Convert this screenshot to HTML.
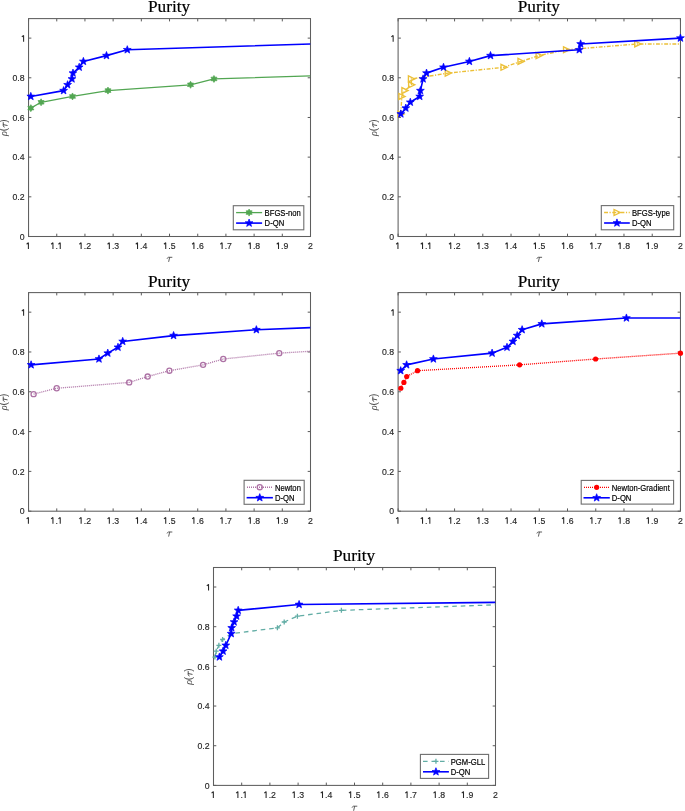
<!DOCTYPE html>
<html><head><meta charset="utf-8"><title>Purity</title>
<style>
html,body{margin:0;padding:0;background:#fff;}
body{width:685px;height:811px;overflow:hidden;font-family:"Liberation Sans",sans-serif;}
svg{display:block;will-change:transform;}
</style></head><body>
<svg width="685" height="811" viewBox="0 0 685 811">
<rect width="685" height="811" fill="#fff"/>
<clipPath id="c1"><rect x="28.55" y="18.6" width="281.95" height="217.9"/></clipPath>
<text x="169.03" y="11.7" font-family="Liberation Serif" font-size="17.3" fill="#000" text-anchor="middle" stroke="#000" stroke-width="0.2">Purity</text>
<path d="M28.55 236.5V233.7M28.55 18.6V21.4M56.75 236.5V233.7M56.75 18.6V21.4M84.94 236.5V233.7M84.94 18.6V21.4M113.14 236.5V233.7M113.14 18.6V21.4M141.33 236.5V233.7M141.33 18.6V21.4M169.53 236.5V233.7M169.53 18.6V21.4M197.72 236.5V233.7M197.72 18.6V21.4M225.91 236.5V233.7M225.91 18.6V21.4M254.11 236.5V233.7M254.11 18.6V21.4M282.3 236.5V233.7M282.3 18.6V21.4M310.5 236.5V233.7M310.5 18.6V21.4M28.55 236.5H31.35M310.5 236.5H307.7M28.55 196.82H31.35M310.5 196.82H307.7M28.55 157.14H31.35M310.5 157.14H307.7M28.55 117.47H31.35M310.5 117.47H307.7M28.55 77.79H31.35M310.5 77.79H307.7M28.55 38.11H31.35M310.5 38.11H307.7" stroke="#5a5a5a" stroke-width="1" fill="none"/>
<rect x="28.55" y="18.6" width="281.95" height="217.9" fill="none" stroke="#5e5e5e" stroke-width="1.05"/>
<path d="M28.4 249V242.68L26.63 244.26" fill="none" stroke="#262626" stroke-width="1.05" stroke-linejoin="bevel"/>
<text transform="translate(50.67 249) scale(0.94 1)" font-family="Liberation Sans" font-size="9.3" fill="#262626" stroke="#262626" stroke-width="0.15">&#8199;.&#8199;</text><path d="M52.95 249V242.68L51.18 244.26" fill="none" stroke="#262626" stroke-width="1.05" stroke-linejoin="bevel"/><path d="M60.24 249V242.68L58.47 244.26" fill="none" stroke="#262626" stroke-width="1.05" stroke-linejoin="bevel"/>
<text transform="translate(78.86 249) scale(0.94 1)" font-family="Liberation Sans" font-size="9.3" fill="#262626" stroke="#262626" stroke-width="0.15">&#8199;.2</text><path d="M81.14 249V242.68L79.38 244.26" fill="none" stroke="#262626" stroke-width="1.05" stroke-linejoin="bevel"/>
<text transform="translate(107.06 249) scale(0.94 1)" font-family="Liberation Sans" font-size="9.3" fill="#262626" stroke="#262626" stroke-width="0.15">&#8199;.3</text><path d="M109.34 249V242.68L107.57 244.26" fill="none" stroke="#262626" stroke-width="1.05" stroke-linejoin="bevel"/>
<text transform="translate(135.25 249) scale(0.94 1)" font-family="Liberation Sans" font-size="9.3" fill="#262626" stroke="#262626" stroke-width="0.15">&#8199;.4</text><path d="M137.53 249V242.68L135.77 244.26" fill="none" stroke="#262626" stroke-width="1.05" stroke-linejoin="bevel"/>
<text transform="translate(163.45 249) scale(0.94 1)" font-family="Liberation Sans" font-size="9.3" fill="#262626" stroke="#262626" stroke-width="0.15">&#8199;.5</text><path d="M165.73 249V242.68L163.96 244.26" fill="none" stroke="#262626" stroke-width="1.05" stroke-linejoin="bevel"/>
<text transform="translate(191.64 249) scale(0.94 1)" font-family="Liberation Sans" font-size="9.3" fill="#262626" stroke="#262626" stroke-width="0.15">&#8199;.6</text><path d="M193.92 249V242.68L192.16 244.26" fill="none" stroke="#262626" stroke-width="1.05" stroke-linejoin="bevel"/>
<text transform="translate(219.84 249) scale(0.94 1)" font-family="Liberation Sans" font-size="9.3" fill="#262626" stroke="#262626" stroke-width="0.15">&#8199;.7</text><path d="M222.12 249V242.68L220.35 244.26" fill="none" stroke="#262626" stroke-width="1.05" stroke-linejoin="bevel"/>
<text transform="translate(248.03 249) scale(0.94 1)" font-family="Liberation Sans" font-size="9.3" fill="#262626" stroke="#262626" stroke-width="0.15">&#8199;.8</text><path d="M250.31 249V242.68L248.55 244.26" fill="none" stroke="#262626" stroke-width="1.05" stroke-linejoin="bevel"/>
<text transform="translate(276.23 249) scale(0.94 1)" font-family="Liberation Sans" font-size="9.3" fill="#262626" stroke="#262626" stroke-width="0.15">&#8199;.9</text><path d="M278.51 249V242.68L276.74 244.26" fill="none" stroke="#262626" stroke-width="1.05" stroke-linejoin="bevel"/>
<text transform="translate(308.07 249) scale(0.94 1)" font-family="Liberation Sans" font-size="9.3" fill="#262626" stroke="#262626" stroke-width="0.15">2</text>
<text transform="translate(19.74 239.65) scale(0.94 1)" font-family="Liberation Sans" font-size="9.3" fill="#262626" stroke="#262626" stroke-width="0.15">0</text>
<text transform="translate(12.45 199.97) scale(0.94 1)" font-family="Liberation Sans" font-size="9.3" fill="#262626" stroke="#262626" stroke-width="0.15">0.2</text>
<text transform="translate(12.45 160.29) scale(0.94 1)" font-family="Liberation Sans" font-size="9.3" fill="#262626" stroke="#262626" stroke-width="0.15">0.4</text>
<text transform="translate(12.45 120.62) scale(0.94 1)" font-family="Liberation Sans" font-size="9.3" fill="#262626" stroke="#262626" stroke-width="0.15">0.6</text>
<text transform="translate(12.45 80.94) scale(0.94 1)" font-family="Liberation Sans" font-size="9.3" fill="#262626" stroke="#262626" stroke-width="0.15">0.8</text>
<path d="M23.6 41.71V35.39L21.83 36.97" fill="none" stroke="#262626" stroke-width="1.05" stroke-linejoin="bevel"/>
<path d="M167.22 258.4Q167.72 257.3 168.43 257.3L171.93 257.3M169.62 257.5L168.72 261.5" fill="none" stroke="#555" stroke-width="0.95" stroke-linecap="round"/>
<g transform="translate(6.95 127.95) rotate(-90)" fill="#4a4a4a"><text x="-8.0" y="0" font-family="Liberation Serif" font-style="italic" font-size="10.2">&#961;</text><text x="-3.3" y="0" font-family="Liberation Sans" font-size="10">(</text><text x="5.2" y="0" font-family="Liberation Sans" font-size="10">)</text><path d="M0.9 -2.7Q1.3 -3.7 2.0 -3.7L5.4 -3.7M3.3 -3.6L2.5 0.2" fill="none" stroke="#4a4a4a" stroke-width="0.95" stroke-linecap="round"/></g>
<path d="M30.83 108.13 L41.07 102.29 L72.51 96.46 L107.98 90.62 L190.56 84.79 L213.96 78.95 L310.5 75.96" fill="none" stroke="#52a652" stroke-width="1.3" stroke-linejoin="round" clip-path="url(#c1)"/>
<polygon points="30.83,104.63 31.85,106.37 33.86,106.38 32.86,108.13 33.86,109.88 31.85,109.89 30.83,111.63 29.82,109.89 27.8,109.88 28.8,108.13 27.8,106.38 29.82,106.37" fill="#52a652" stroke="#52a652" stroke-width="0.7"/>
<polygon points="41.07,98.79 42.08,100.54 44.1,100.54 43.1,102.29 44.1,104.04 42.08,104.05 41.07,105.79 40.05,104.05 38.04,104.04 39.04,102.29 38.04,100.54 40.05,100.54" fill="#52a652" stroke="#52a652" stroke-width="0.7"/>
<polygon points="72.51,92.96 73.52,94.7 75.54,94.71 74.54,96.46 75.54,98.21 73.52,98.22 72.51,99.96 71.49,98.22 69.47,98.21 70.48,96.46 69.47,94.71 71.49,94.7" fill="#52a652" stroke="#52a652" stroke-width="0.7"/>
<polygon points="107.98,87.12 108.99,88.87 111.01,88.87 110.01,90.62 111.01,92.37 108.99,92.38 107.98,94.12 106.96,92.38 104.94,92.37 105.95,90.62 104.94,88.87 106.96,88.87" fill="#52a652" stroke="#52a652" stroke-width="0.7"/>
<polygon points="190.56,81.29 191.57,83.03 193.59,83.04 192.59,84.79 193.59,86.54 191.57,86.55 190.56,88.29 189.54,86.55 187.53,86.54 188.53,84.79 187.53,83.04 189.54,83.03" fill="#52a652" stroke="#52a652" stroke-width="0.7"/>
<polygon points="213.96,75.45 214.98,77.2 216.99,77.2 215.99,78.95 216.99,80.7 214.98,80.71 213.96,82.45 212.95,80.71 210.93,80.7 211.93,78.95 210.93,77.2 212.95,77.2" fill="#52a652" stroke="#52a652" stroke-width="0.7"/>
<path d="M30.81 96.46 L63.6 90.62 L67.6 84.79 L71.97 78.95 L72.99 73.12 L79.19 67.28 L83.39 61.45 L106.48 55.61 L127.29 49.78 L310.5 43.94" fill="none" stroke="#0000ff" stroke-width="1.6" stroke-linejoin="round" clip-path="url(#c1)"/>
<polygon points="30.81,92.36 31.82,95.07 34.7,95.19 32.44,96.99 33.22,99.78 30.81,98.18 28.4,99.78 29.17,96.99 26.91,95.19 29.79,95.07" fill="#0000ff" stroke="#0000ff" stroke-width="0.7" stroke-linejoin="miter"/>
<polygon points="63.6,86.52 64.61,89.23 67.5,89.36 65.23,91.16 66.01,93.94 63.6,92.35 61.19,93.94 61.96,91.16 59.7,89.36 62.58,89.23" fill="#0000ff" stroke="#0000ff" stroke-width="0.7" stroke-linejoin="miter"/>
<polygon points="67.6,80.69 68.61,83.4 71.5,83.52 69.24,85.32 70.01,88.11 67.6,86.51 65.19,88.11 65.96,85.32 63.7,83.52 66.59,83.4" fill="#0000ff" stroke="#0000ff" stroke-width="0.7" stroke-linejoin="miter"/>
<polygon points="71.97,74.85 72.98,77.56 75.87,77.69 73.61,79.49 74.38,82.27 71.97,80.68 69.56,82.27 70.33,79.49 68.07,77.69 70.96,77.56" fill="#0000ff" stroke="#0000ff" stroke-width="0.7" stroke-linejoin="miter"/>
<polygon points="72.99,69.02 74,71.73 76.88,71.85 74.62,73.65 75.4,76.44 72.99,74.84 70.58,76.44 71.35,73.65 69.09,71.85 71.97,71.73" fill="#0000ff" stroke="#0000ff" stroke-width="0.7" stroke-linejoin="miter"/>
<polygon points="79.19,63.18 80.2,65.89 83.09,66.02 80.83,67.82 81.6,70.6 79.19,69.01 76.78,70.6 77.55,67.82 75.29,66.02 78.18,65.89" fill="#0000ff" stroke="#0000ff" stroke-width="0.7" stroke-linejoin="miter"/>
<polygon points="83.39,57.35 84.4,60.06 87.29,60.18 85.03,61.98 85.8,64.77 83.39,63.17 80.98,64.77 81.75,61.98 79.49,60.18 82.38,60.06" fill="#0000ff" stroke="#0000ff" stroke-width="0.7" stroke-linejoin="miter"/>
<polygon points="106.48,51.51 107.49,54.22 110.38,54.35 108.12,56.15 108.89,58.93 106.48,57.34 104.07,58.93 104.84,56.15 102.58,54.35 105.47,54.22" fill="#0000ff" stroke="#0000ff" stroke-width="0.7" stroke-linejoin="miter"/>
<polygon points="127.29,45.68 128.3,48.39 131.19,48.51 128.93,50.31 129.7,53.1 127.29,51.5 124.88,53.1 125.65,50.31 123.39,48.51 126.28,48.39" fill="#0000ff" stroke="#0000ff" stroke-width="0.7" stroke-linejoin="miter"/>
<rect x="233.3" y="205.7" width="70.5" height="24.1" fill="#fff" stroke="#6e6e6e" stroke-width="1.1"/>
<path d="M236.1 212.6H262.1" stroke="#52a652" stroke-width="1.3" fill="none"/>
<polygon points="249.1,209.1 250.12,210.84 252.13,210.85 251.13,212.6 252.13,214.35 250.12,214.36 249.1,216.1 248.09,214.36 246.07,214.35 247.07,212.6 246.07,210.85 248.09,210.84" fill="#52a652" stroke="#52a652" stroke-width="0.7"/>
<text transform="translate(264.6 215.9) scale(0.925 1)" font-family="Liberation Sans" font-size="8.3" fill="#000" text-anchor="start" stroke="#000" stroke-width="0.18">BFGS-non</text>
<path d="M236.1 223.1H262.1" stroke="#0000ff" stroke-width="1.6" fill="none"/>
<polygon points="249.1,219 250.11,221.71 253,221.83 250.74,223.63 251.51,226.42 249.1,224.82 246.69,226.42 247.46,223.63 245.2,221.83 248.09,221.71" fill="#0000ff" stroke="#0000ff" stroke-width="0.7" stroke-linejoin="miter"/>
<text transform="translate(264.6 226.4) scale(0.925 1)" font-family="Liberation Sans" font-size="8.3" fill="#000" text-anchor="start" stroke="#000" stroke-width="0.18">D-QN</text>
<clipPath id="c2"><rect x="398.1" y="18.6" width="282.35" height="217.9"/></clipPath>
<text x="538.78" y="11.7" font-family="Liberation Serif" font-size="17.3" fill="#000" text-anchor="middle" stroke="#000" stroke-width="0.2">Purity</text>
<path d="M398.1 236.5V233.7M398.1 18.6V21.4M426.34 236.5V233.7M426.34 18.6V21.4M454.57 236.5V233.7M454.57 18.6V21.4M482.81 236.5V233.7M482.81 18.6V21.4M511.04 236.5V233.7M511.04 18.6V21.4M539.28 236.5V233.7M539.28 18.6V21.4M567.51 236.5V233.7M567.51 18.6V21.4M595.75 236.5V233.7M595.75 18.6V21.4M623.98 236.5V233.7M623.98 18.6V21.4M652.22 236.5V233.7M652.22 18.6V21.4M680.45 236.5V233.7M680.45 18.6V21.4M398.1 236.5H400.9M680.45 236.5H677.65M398.1 196.82H400.9M680.45 196.82H677.65M398.1 157.14H400.9M680.45 157.14H677.65M398.1 117.47H400.9M680.45 117.47H677.65M398.1 77.79H400.9M680.45 77.79H677.65M398.1 38.11H400.9M680.45 38.11H677.65" stroke="#5a5a5a" stroke-width="1" fill="none"/>
<rect x="398.1" y="18.6" width="282.35" height="217.9" fill="none" stroke="#5e5e5e" stroke-width="1.05"/>
<path d="M397.95 249V242.68L396.18 244.26" fill="none" stroke="#262626" stroke-width="1.05" stroke-linejoin="bevel"/>
<text transform="translate(420.26 249) scale(0.94 1)" font-family="Liberation Sans" font-size="9.3" fill="#262626" stroke="#262626" stroke-width="0.15">&#8199;.&#8199;</text><path d="M422.54 249V242.68L420.77 244.26" fill="none" stroke="#262626" stroke-width="1.05" stroke-linejoin="bevel"/><path d="M429.83 249V242.68L428.06 244.26" fill="none" stroke="#262626" stroke-width="1.05" stroke-linejoin="bevel"/>
<text transform="translate(448.49 249) scale(0.94 1)" font-family="Liberation Sans" font-size="9.3" fill="#262626" stroke="#262626" stroke-width="0.15">&#8199;.2</text><path d="M450.77 249V242.68L449.01 244.26" fill="none" stroke="#262626" stroke-width="1.05" stroke-linejoin="bevel"/>
<text transform="translate(476.73 249) scale(0.94 1)" font-family="Liberation Sans" font-size="9.3" fill="#262626" stroke="#262626" stroke-width="0.15">&#8199;.3</text><path d="M479.01 249V242.68L477.24 244.26" fill="none" stroke="#262626" stroke-width="1.05" stroke-linejoin="bevel"/>
<text transform="translate(504.96 249) scale(0.94 1)" font-family="Liberation Sans" font-size="9.3" fill="#262626" stroke="#262626" stroke-width="0.15">&#8199;.4</text><path d="M507.24 249V242.68L505.48 244.26" fill="none" stroke="#262626" stroke-width="1.05" stroke-linejoin="bevel"/>
<text transform="translate(533.2 249) scale(0.94 1)" font-family="Liberation Sans" font-size="9.3" fill="#262626" stroke="#262626" stroke-width="0.15">&#8199;.5</text><path d="M535.48 249V242.68L533.71 244.26" fill="none" stroke="#262626" stroke-width="1.05" stroke-linejoin="bevel"/>
<text transform="translate(561.43 249) scale(0.94 1)" font-family="Liberation Sans" font-size="9.3" fill="#262626" stroke="#262626" stroke-width="0.15">&#8199;.6</text><path d="M563.71 249V242.68L561.95 244.26" fill="none" stroke="#262626" stroke-width="1.05" stroke-linejoin="bevel"/>
<text transform="translate(589.67 249) scale(0.94 1)" font-family="Liberation Sans" font-size="9.3" fill="#262626" stroke="#262626" stroke-width="0.15">&#8199;.7</text><path d="M591.95 249V242.68L590.18 244.26" fill="none" stroke="#262626" stroke-width="1.05" stroke-linejoin="bevel"/>
<text transform="translate(617.9 249) scale(0.94 1)" font-family="Liberation Sans" font-size="9.3" fill="#262626" stroke="#262626" stroke-width="0.15">&#8199;.8</text><path d="M620.18 249V242.68L618.42 244.26" fill="none" stroke="#262626" stroke-width="1.05" stroke-linejoin="bevel"/>
<text transform="translate(646.14 249) scale(0.94 1)" font-family="Liberation Sans" font-size="9.3" fill="#262626" stroke="#262626" stroke-width="0.15">&#8199;.9</text><path d="M648.42 249V242.68L646.65 244.26" fill="none" stroke="#262626" stroke-width="1.05" stroke-linejoin="bevel"/>
<text transform="translate(678.02 249) scale(0.94 1)" font-family="Liberation Sans" font-size="9.3" fill="#262626" stroke="#262626" stroke-width="0.15">2</text>
<text transform="translate(389.29 239.65) scale(0.94 1)" font-family="Liberation Sans" font-size="9.3" fill="#262626" stroke="#262626" stroke-width="0.15">0</text>
<text transform="translate(382 199.97) scale(0.94 1)" font-family="Liberation Sans" font-size="9.3" fill="#262626" stroke="#262626" stroke-width="0.15">0.2</text>
<text transform="translate(382 160.29) scale(0.94 1)" font-family="Liberation Sans" font-size="9.3" fill="#262626" stroke="#262626" stroke-width="0.15">0.4</text>
<text transform="translate(382 120.62) scale(0.94 1)" font-family="Liberation Sans" font-size="9.3" fill="#262626" stroke="#262626" stroke-width="0.15">0.6</text>
<text transform="translate(382 80.94) scale(0.94 1)" font-family="Liberation Sans" font-size="9.3" fill="#262626" stroke="#262626" stroke-width="0.15">0.8</text>
<path d="M393.15 41.71V35.39L391.38 36.97" fill="none" stroke="#262626" stroke-width="1.05" stroke-linejoin="bevel"/>
<path d="M536.98 258.4Q537.48 257.3 538.18 257.3L541.68 257.3M539.38 257.5L538.48 261.5" fill="none" stroke="#555" stroke-width="0.95" stroke-linecap="round"/>
<g transform="translate(376.5 127.95) rotate(-90)" fill="#4a4a4a"><text x="-8.0" y="0" font-family="Liberation Serif" font-style="italic" font-size="10.2">&#961;</text><text x="-3.3" y="0" font-family="Liberation Sans" font-size="10">(</text><text x="5.2" y="0" font-family="Liberation Sans" font-size="10">)</text><path d="M0.9 -2.7Q1.3 -3.7 2.0 -3.7L5.4 -3.7M3.3 -3.6L2.5 0.2" fill="none" stroke="#4a4a4a" stroke-width="0.95" stroke-linecap="round"/></g>
<path d="M400.81 113.96 L401.8 96.46 L404.79 90.62 L411.51 84.79 L411.31 78.95 L448.13 73.12 L503.9 67.28 L520.89 61.45 L538.99 55.61 L566.41 49.78 L637.62 43.94 L680.45 43.94" fill="none" stroke="#ecc038" stroke-width="1.4" stroke-linejoin="round" stroke-dasharray="3.9 1.5 1.2 1.6" clip-path="url(#c2)"/>
<polygon points="397.91,110.96 397.91,116.96 404.11,113.96" fill="none" stroke="#ecc038" stroke-width="1.35" stroke-linejoin="miter"/>
<polygon points="398.9,93.46 398.9,99.46 405.1,96.46" fill="none" stroke="#ecc038" stroke-width="1.35" stroke-linejoin="miter"/>
<polygon points="401.89,87.62 401.89,93.62 408.09,90.62" fill="none" stroke="#ecc038" stroke-width="1.35" stroke-linejoin="miter"/>
<polygon points="408.61,81.79 408.61,87.79 414.81,84.79" fill="none" stroke="#ecc038" stroke-width="1.35" stroke-linejoin="miter"/>
<polygon points="408.41,75.95 408.41,81.95 414.61,78.95" fill="none" stroke="#ecc038" stroke-width="1.35" stroke-linejoin="miter"/>
<polygon points="445.23,70.12 445.23,76.12 451.43,73.12" fill="none" stroke="#ecc038" stroke-width="1.35" stroke-linejoin="miter"/>
<polygon points="501,64.28 501,70.28 507.2,67.28" fill="none" stroke="#ecc038" stroke-width="1.35" stroke-linejoin="miter"/>
<polygon points="517.99,58.45 517.99,64.45 524.19,61.45" fill="none" stroke="#ecc038" stroke-width="1.35" stroke-linejoin="miter"/>
<polygon points="536.09,52.61 536.09,58.61 542.29,55.61" fill="none" stroke="#ecc038" stroke-width="1.35" stroke-linejoin="miter"/>
<polygon points="563.51,46.78 563.51,52.78 569.71,49.78" fill="none" stroke="#ecc038" stroke-width="1.35" stroke-linejoin="miter"/>
<polygon points="634.72,40.94 634.72,46.94 640.92,43.94" fill="none" stroke="#ecc038" stroke-width="1.35" stroke-linejoin="miter"/>
<path d="M400.81 113.96 L405.81 108.13 L410.3 102.29 L419.7 96.46 L420.41 90.62 L423.09 78.95 L426.5 73.12 L443.5 67.28 L469.39 61.45 L490.51 55.61 L579.31 49.78 L580.61 43.94 L680.45 38.11" fill="none" stroke="#0000ff" stroke-width="1.6" stroke-linejoin="round" clip-path="url(#c2)"/>
<polygon points="400.81,109.86 401.82,112.57 404.71,112.7 402.45,114.5 403.22,117.28 400.81,115.69 398.4,117.28 399.17,114.5 396.91,112.7 399.8,112.57" fill="#0000ff" stroke="#0000ff" stroke-width="0.7" stroke-linejoin="miter"/>
<polygon points="405.81,104.03 406.82,106.74 409.71,106.86 407.45,108.66 408.22,111.45 405.81,109.85 403.4,111.45 404.17,108.66 401.91,106.86 404.8,106.74" fill="#0000ff" stroke="#0000ff" stroke-width="0.7" stroke-linejoin="miter"/>
<polygon points="410.3,98.19 411.31,100.9 414.2,101.03 411.94,102.83 412.71,105.61 410.3,104.02 407.89,105.61 408.66,102.83 406.4,101.03 409.29,100.9" fill="#0000ff" stroke="#0000ff" stroke-width="0.7" stroke-linejoin="miter"/>
<polygon points="419.7,92.36 420.71,95.07 423.6,95.19 421.34,96.99 422.11,99.78 419.7,98.18 417.29,99.78 418.06,96.99 415.8,95.19 418.69,95.07" fill="#0000ff" stroke="#0000ff" stroke-width="0.7" stroke-linejoin="miter"/>
<polygon points="420.41,86.52 421.42,89.23 424.3,89.36 422.04,91.16 422.82,93.94 420.41,92.35 418,93.94 418.77,91.16 416.51,89.36 419.39,89.23" fill="#0000ff" stroke="#0000ff" stroke-width="0.7" stroke-linejoin="miter"/>
<polygon points="423.09,74.85 424.1,77.56 426.99,77.69 424.73,79.49 425.5,82.27 423.09,80.68 420.68,82.27 421.45,79.49 419.19,77.69 422.08,77.56" fill="#0000ff" stroke="#0000ff" stroke-width="0.7" stroke-linejoin="miter"/>
<polygon points="426.5,69.02 427.52,71.73 430.4,71.85 428.14,73.65 428.91,76.44 426.5,74.84 424.09,76.44 424.87,73.65 422.61,71.85 425.49,71.73" fill="#0000ff" stroke="#0000ff" stroke-width="0.7" stroke-linejoin="miter"/>
<polygon points="443.5,63.18 444.51,65.89 447.4,66.02 445.14,67.82 445.91,70.6 443.5,69.01 441.09,70.6 441.86,67.82 439.6,66.02 442.49,65.89" fill="#0000ff" stroke="#0000ff" stroke-width="0.7" stroke-linejoin="miter"/>
<polygon points="469.39,57.35 470.41,60.06 473.29,60.18 471.03,61.98 471.8,64.77 469.39,63.17 466.98,64.77 467.76,61.98 465.49,60.18 468.38,60.06" fill="#0000ff" stroke="#0000ff" stroke-width="0.7" stroke-linejoin="miter"/>
<polygon points="490.51,51.51 491.53,54.22 494.41,54.35 492.15,56.15 492.92,58.93 490.51,57.34 488.1,58.93 488.88,56.15 486.61,54.35 489.5,54.22" fill="#0000ff" stroke="#0000ff" stroke-width="0.7" stroke-linejoin="miter"/>
<polygon points="579.31,45.68 580.32,48.39 583.21,48.51 580.95,50.31 581.72,53.1 579.31,51.5 576.9,53.1 577.67,50.31 575.41,48.51 578.3,48.39" fill="#0000ff" stroke="#0000ff" stroke-width="0.7" stroke-linejoin="miter"/>
<polygon points="580.61,39.84 581.62,42.55 584.51,42.68 582.25,44.48 583.02,47.26 580.61,45.67 578.2,47.26 578.97,44.48 576.71,42.68 579.6,42.55" fill="#0000ff" stroke="#0000ff" stroke-width="0.7" stroke-linejoin="miter"/>
<polygon points="680.45,34.01 681.46,36.72 684.35,36.84 682.09,38.64 682.86,41.43 680.45,39.83 678.04,41.43 678.81,38.64 676.55,36.84 679.44,36.72" fill="#0000ff" stroke="#0000ff" stroke-width="0.7" stroke-linejoin="miter"/>
<rect x="601.3" y="205.6" width="72.4" height="24.2" fill="#fff" stroke="#6e6e6e" stroke-width="1.1"/>
<path d="M604.1 212.5H629.8" stroke="#ecc038" stroke-width="1.4" fill="none" stroke-dasharray="3.9 1.5 1.2 1.6"/>
<polygon points="614.05,209.5 614.05,215.5 620.25,212.5" fill="none" stroke="#ecc038" stroke-width="1.35" stroke-linejoin="miter"/>
<text transform="translate(632 215.8) scale(0.925 1)" font-family="Liberation Sans" font-size="8.3" fill="#000" text-anchor="start" stroke="#000" stroke-width="0.18">BFGS-type</text>
<path d="M604.1 223H629.8" stroke="#0000ff" stroke-width="1.6" fill="none"/>
<polygon points="616.95,218.9 617.96,221.61 620.85,221.73 618.59,223.53 619.36,226.32 616.95,224.72 614.54,226.32 615.31,223.53 613.05,221.73 615.94,221.61" fill="#0000ff" stroke="#0000ff" stroke-width="0.7" stroke-linejoin="miter"/>
<text transform="translate(632 226.3) scale(0.925 1)" font-family="Liberation Sans" font-size="8.3" fill="#000" text-anchor="start" stroke="#000" stroke-width="0.18">D-QN</text>
<clipPath id="c3"><rect x="28.55" y="292.6" width="281.95" height="218.6"/></clipPath>
<text x="169.03" y="286.6" font-family="Liberation Serif" font-size="17.3" fill="#000" text-anchor="middle" stroke="#000" stroke-width="0.2">Purity</text>
<path d="M28.55 511.2V508.4M28.55 292.6V295.4M56.75 511.2V508.4M56.75 292.6V295.4M84.94 511.2V508.4M84.94 292.6V295.4M113.14 511.2V508.4M113.14 292.6V295.4M141.33 511.2V508.4M141.33 292.6V295.4M169.53 511.2V508.4M169.53 292.6V295.4M197.72 511.2V508.4M197.72 292.6V295.4M225.91 511.2V508.4M225.91 292.6V295.4M254.11 511.2V508.4M254.11 292.6V295.4M282.3 511.2V508.4M282.3 292.6V295.4M310.5 511.2V508.4M310.5 292.6V295.4M28.55 511.2H31.35M310.5 511.2H307.7M28.55 471.39H31.35M310.5 471.39H307.7M28.55 431.59H31.35M310.5 431.59H307.7M28.55 391.78H31.35M310.5 391.78H307.7M28.55 351.98H31.35M310.5 351.98H307.7M28.55 312.17H31.35M310.5 312.17H307.7" stroke="#5a5a5a" stroke-width="1" fill="none"/>
<rect x="28.55" y="292.6" width="281.95" height="218.6" fill="none" stroke="#5e5e5e" stroke-width="1.05"/>
<path d="M28.4 523.7V517.38L26.63 518.96" fill="none" stroke="#262626" stroke-width="1.05" stroke-linejoin="bevel"/>
<text transform="translate(50.67 523.7) scale(0.94 1)" font-family="Liberation Sans" font-size="9.3" fill="#262626" stroke="#262626" stroke-width="0.15">&#8199;.&#8199;</text><path d="M52.95 523.7V517.38L51.18 518.96" fill="none" stroke="#262626" stroke-width="1.05" stroke-linejoin="bevel"/><path d="M60.24 523.7V517.38L58.47 518.96" fill="none" stroke="#262626" stroke-width="1.05" stroke-linejoin="bevel"/>
<text transform="translate(78.86 523.7) scale(0.94 1)" font-family="Liberation Sans" font-size="9.3" fill="#262626" stroke="#262626" stroke-width="0.15">&#8199;.2</text><path d="M81.14 523.7V517.38L79.38 518.96" fill="none" stroke="#262626" stroke-width="1.05" stroke-linejoin="bevel"/>
<text transform="translate(107.06 523.7) scale(0.94 1)" font-family="Liberation Sans" font-size="9.3" fill="#262626" stroke="#262626" stroke-width="0.15">&#8199;.3</text><path d="M109.34 523.7V517.38L107.57 518.96" fill="none" stroke="#262626" stroke-width="1.05" stroke-linejoin="bevel"/>
<text transform="translate(135.25 523.7) scale(0.94 1)" font-family="Liberation Sans" font-size="9.3" fill="#262626" stroke="#262626" stroke-width="0.15">&#8199;.4</text><path d="M137.53 523.7V517.38L135.77 518.96" fill="none" stroke="#262626" stroke-width="1.05" stroke-linejoin="bevel"/>
<text transform="translate(163.45 523.7) scale(0.94 1)" font-family="Liberation Sans" font-size="9.3" fill="#262626" stroke="#262626" stroke-width="0.15">&#8199;.5</text><path d="M165.73 523.7V517.38L163.96 518.96" fill="none" stroke="#262626" stroke-width="1.05" stroke-linejoin="bevel"/>
<text transform="translate(191.64 523.7) scale(0.94 1)" font-family="Liberation Sans" font-size="9.3" fill="#262626" stroke="#262626" stroke-width="0.15">&#8199;.6</text><path d="M193.92 523.7V517.38L192.16 518.96" fill="none" stroke="#262626" stroke-width="1.05" stroke-linejoin="bevel"/>
<text transform="translate(219.84 523.7) scale(0.94 1)" font-family="Liberation Sans" font-size="9.3" fill="#262626" stroke="#262626" stroke-width="0.15">&#8199;.7</text><path d="M222.12 523.7V517.38L220.35 518.96" fill="none" stroke="#262626" stroke-width="1.05" stroke-linejoin="bevel"/>
<text transform="translate(248.03 523.7) scale(0.94 1)" font-family="Liberation Sans" font-size="9.3" fill="#262626" stroke="#262626" stroke-width="0.15">&#8199;.8</text><path d="M250.31 523.7V517.38L248.55 518.96" fill="none" stroke="#262626" stroke-width="1.05" stroke-linejoin="bevel"/>
<text transform="translate(276.23 523.7) scale(0.94 1)" font-family="Liberation Sans" font-size="9.3" fill="#262626" stroke="#262626" stroke-width="0.15">&#8199;.9</text><path d="M278.51 523.7V517.38L276.74 518.96" fill="none" stroke="#262626" stroke-width="1.05" stroke-linejoin="bevel"/>
<text transform="translate(308.07 523.7) scale(0.94 1)" font-family="Liberation Sans" font-size="9.3" fill="#262626" stroke="#262626" stroke-width="0.15">2</text>
<text transform="translate(19.74 514.35) scale(0.94 1)" font-family="Liberation Sans" font-size="9.3" fill="#262626" stroke="#262626" stroke-width="0.15">0</text>
<text transform="translate(12.45 474.54) scale(0.94 1)" font-family="Liberation Sans" font-size="9.3" fill="#262626" stroke="#262626" stroke-width="0.15">0.2</text>
<text transform="translate(12.45 434.74) scale(0.94 1)" font-family="Liberation Sans" font-size="9.3" fill="#262626" stroke="#262626" stroke-width="0.15">0.4</text>
<text transform="translate(12.45 394.93) scale(0.94 1)" font-family="Liberation Sans" font-size="9.3" fill="#262626" stroke="#262626" stroke-width="0.15">0.6</text>
<text transform="translate(12.45 355.13) scale(0.94 1)" font-family="Liberation Sans" font-size="9.3" fill="#262626" stroke="#262626" stroke-width="0.15">0.8</text>
<path d="M23.6 315.77V309.45L21.83 311.03" fill="none" stroke="#262626" stroke-width="1.05" stroke-linejoin="bevel"/>
<path d="M167.22 533.1Q167.72 532 168.43 532L171.93 532M169.62 532.2L168.72 536.2" fill="none" stroke="#555" stroke-width="0.95" stroke-linecap="round"/>
<g transform="translate(6.95 402.3) rotate(-90)" fill="#4a4a4a"><text x="-8.0" y="0" font-family="Liberation Serif" font-style="italic" font-size="10.2">&#961;</text><text x="-3.3" y="0" font-family="Liberation Sans" font-size="10">(</text><text x="5.2" y="0" font-family="Liberation Sans" font-size="10">)</text><path d="M0.9 -2.7Q1.3 -3.7 2.0 -3.7L5.4 -3.7M3.3 -3.6L2.5 0.2" fill="none" stroke="#4a4a4a" stroke-width="0.95" stroke-linecap="round"/></g>
<path d="M33.6 394.13 L56.69 388.27 L129.18 382.42 L147.67 376.56 L169.38 370.71 L203.08 364.86 L223.26 359 L279.26 353.15 L310.5 351.26" fill="none" stroke="#ad72a5" stroke-width="1.35" stroke-linejoin="round" stroke-dasharray="1 1" clip-path="url(#c3)"/>
<circle cx="33.6" cy="394.13" r="2.55" fill="none" stroke="#ad72a5" stroke-width="1.3"/>
<circle cx="56.69" cy="388.27" r="2.55" fill="none" stroke="#ad72a5" stroke-width="1.3"/>
<circle cx="129.18" cy="382.42" r="2.55" fill="none" stroke="#ad72a5" stroke-width="1.3"/>
<circle cx="147.67" cy="376.56" r="2.55" fill="none" stroke="#ad72a5" stroke-width="1.3"/>
<circle cx="169.38" cy="370.71" r="2.55" fill="none" stroke="#ad72a5" stroke-width="1.3"/>
<circle cx="203.08" cy="364.86" r="2.55" fill="none" stroke="#ad72a5" stroke-width="1.3"/>
<circle cx="223.26" cy="359" r="2.55" fill="none" stroke="#ad72a5" stroke-width="1.3"/>
<circle cx="279.26" cy="353.15" r="2.55" fill="none" stroke="#ad72a5" stroke-width="1.3"/>
<path d="M31.09 364.86 L98.98 359 L107.78 353.15 L117.98 347.3 L122.69 341.44 L173.59 335.59 L256.37 329.73 L310.5 327.62" fill="none" stroke="#0000ff" stroke-width="1.6" stroke-linejoin="round" clip-path="url(#c3)"/>
<polygon points="31.09,360.76 32.1,363.46 34.99,363.59 32.73,365.39 33.5,368.17 31.09,366.58 28.68,368.17 29.45,365.39 27.19,363.59 30.08,363.46" fill="#0000ff" stroke="#0000ff" stroke-width="0.7" stroke-linejoin="miter"/>
<polygon points="98.98,354.9 99.99,357.61 102.88,357.74 100.62,359.53 101.39,362.32 98.98,360.72 96.57,362.32 97.34,359.53 95.08,357.74 97.97,357.61" fill="#0000ff" stroke="#0000ff" stroke-width="0.7" stroke-linejoin="miter"/>
<polygon points="107.78,349.05 108.79,351.76 111.68,351.88 109.42,353.68 110.19,356.47 107.78,354.87 105.37,356.47 106.14,353.68 103.88,351.88 106.77,351.76" fill="#0000ff" stroke="#0000ff" stroke-width="0.7" stroke-linejoin="miter"/>
<polygon points="117.98,343.2 119,345.9 121.88,346.03 119.62,347.83 120.39,350.61 117.98,349.02 115.57,350.61 116.35,347.83 114.09,346.03 116.97,345.9" fill="#0000ff" stroke="#0000ff" stroke-width="0.7" stroke-linejoin="miter"/>
<polygon points="122.69,337.34 123.71,340.05 126.59,340.17 124.33,341.97 125.1,344.76 122.69,343.16 120.28,344.76 121.06,341.97 118.79,340.17 121.68,340.05" fill="#0000ff" stroke="#0000ff" stroke-width="0.7" stroke-linejoin="miter"/>
<polygon points="173.59,331.49 174.6,334.19 177.48,334.32 175.22,336.12 175.99,338.9 173.59,337.31 171.18,338.9 171.95,336.12 169.69,334.32 172.57,334.19" fill="#0000ff" stroke="#0000ff" stroke-width="0.7" stroke-linejoin="miter"/>
<polygon points="256.37,325.63 257.38,328.34 260.26,328.47 258,330.27 258.78,333.05 256.37,331.46 253.96,333.05 254.73,330.27 252.47,328.47 255.35,328.34" fill="#0000ff" stroke="#0000ff" stroke-width="0.7" stroke-linejoin="miter"/>
<rect x="244.1" y="480.3" width="60.1" height="24" fill="#fff" stroke="#6e6e6e" stroke-width="1.1"/>
<path d="M247 487.2H272.9" stroke="#ad72a5" stroke-width="1.35" fill="none" stroke-dasharray="1 1"/>
<circle cx="259.75" cy="487.2" r="2.55" fill="none" stroke="#ad72a5" stroke-width="1.3"/>
<text transform="translate(274.9 490.5) scale(0.925 1)" font-family="Liberation Sans" font-size="8.3" fill="#000" text-anchor="start" stroke="#000" stroke-width="0.18">Newton</text>
<path d="M246.6 497.7H272.9" stroke="#0000ff" stroke-width="1.6" fill="none"/>
<polygon points="259.75,493.6 260.76,496.31 263.65,496.43 261.39,498.23 262.16,501.02 259.75,499.42 257.34,501.02 258.11,498.23 255.85,496.43 258.74,496.31" fill="#0000ff" stroke="#0000ff" stroke-width="0.7" stroke-linejoin="miter"/>
<text transform="translate(274.9 501) scale(0.925 1)" font-family="Liberation Sans" font-size="8.3" fill="#000" text-anchor="start" stroke="#000" stroke-width="0.18">D-QN</text>
<clipPath id="c4"><rect x="398.1" y="292.6" width="282.35" height="218.6"/></clipPath>
<text x="538.78" y="286.6" font-family="Liberation Serif" font-size="17.3" fill="#000" text-anchor="middle" stroke="#000" stroke-width="0.2">Purity</text>
<path d="M398.1 511.2V508.4M398.1 292.6V295.4M426.34 511.2V508.4M426.34 292.6V295.4M454.57 511.2V508.4M454.57 292.6V295.4M482.81 511.2V508.4M482.81 292.6V295.4M511.04 511.2V508.4M511.04 292.6V295.4M539.28 511.2V508.4M539.28 292.6V295.4M567.51 511.2V508.4M567.51 292.6V295.4M595.75 511.2V508.4M595.75 292.6V295.4M623.98 511.2V508.4M623.98 292.6V295.4M652.22 511.2V508.4M652.22 292.6V295.4M680.45 511.2V508.4M680.45 292.6V295.4M398.1 511.2H400.9M680.45 511.2H677.65M398.1 471.39H400.9M680.45 471.39H677.65M398.1 431.59H400.9M680.45 431.59H677.65M398.1 391.78H400.9M680.45 391.78H677.65M398.1 351.98H400.9M680.45 351.98H677.65M398.1 312.17H400.9M680.45 312.17H677.65" stroke="#5a5a5a" stroke-width="1" fill="none"/>
<rect x="398.1" y="292.6" width="282.35" height="218.6" fill="none" stroke="#5e5e5e" stroke-width="1.05"/>
<path d="M397.95 523.7V517.38L396.18 518.96" fill="none" stroke="#262626" stroke-width="1.05" stroke-linejoin="bevel"/>
<text transform="translate(420.26 523.7) scale(0.94 1)" font-family="Liberation Sans" font-size="9.3" fill="#262626" stroke="#262626" stroke-width="0.15">&#8199;.&#8199;</text><path d="M422.54 523.7V517.38L420.77 518.96" fill="none" stroke="#262626" stroke-width="1.05" stroke-linejoin="bevel"/><path d="M429.83 523.7V517.38L428.06 518.96" fill="none" stroke="#262626" stroke-width="1.05" stroke-linejoin="bevel"/>
<text transform="translate(448.49 523.7) scale(0.94 1)" font-family="Liberation Sans" font-size="9.3" fill="#262626" stroke="#262626" stroke-width="0.15">&#8199;.2</text><path d="M450.77 523.7V517.38L449.01 518.96" fill="none" stroke="#262626" stroke-width="1.05" stroke-linejoin="bevel"/>
<text transform="translate(476.73 523.7) scale(0.94 1)" font-family="Liberation Sans" font-size="9.3" fill="#262626" stroke="#262626" stroke-width="0.15">&#8199;.3</text><path d="M479.01 523.7V517.38L477.24 518.96" fill="none" stroke="#262626" stroke-width="1.05" stroke-linejoin="bevel"/>
<text transform="translate(504.96 523.7) scale(0.94 1)" font-family="Liberation Sans" font-size="9.3" fill="#262626" stroke="#262626" stroke-width="0.15">&#8199;.4</text><path d="M507.24 523.7V517.38L505.48 518.96" fill="none" stroke="#262626" stroke-width="1.05" stroke-linejoin="bevel"/>
<text transform="translate(533.2 523.7) scale(0.94 1)" font-family="Liberation Sans" font-size="9.3" fill="#262626" stroke="#262626" stroke-width="0.15">&#8199;.5</text><path d="M535.48 523.7V517.38L533.71 518.96" fill="none" stroke="#262626" stroke-width="1.05" stroke-linejoin="bevel"/>
<text transform="translate(561.43 523.7) scale(0.94 1)" font-family="Liberation Sans" font-size="9.3" fill="#262626" stroke="#262626" stroke-width="0.15">&#8199;.6</text><path d="M563.71 523.7V517.38L561.95 518.96" fill="none" stroke="#262626" stroke-width="1.05" stroke-linejoin="bevel"/>
<text transform="translate(589.67 523.7) scale(0.94 1)" font-family="Liberation Sans" font-size="9.3" fill="#262626" stroke="#262626" stroke-width="0.15">&#8199;.7</text><path d="M591.95 523.7V517.38L590.18 518.96" fill="none" stroke="#262626" stroke-width="1.05" stroke-linejoin="bevel"/>
<text transform="translate(617.9 523.7) scale(0.94 1)" font-family="Liberation Sans" font-size="9.3" fill="#262626" stroke="#262626" stroke-width="0.15">&#8199;.8</text><path d="M620.18 523.7V517.38L618.42 518.96" fill="none" stroke="#262626" stroke-width="1.05" stroke-linejoin="bevel"/>
<text transform="translate(646.14 523.7) scale(0.94 1)" font-family="Liberation Sans" font-size="9.3" fill="#262626" stroke="#262626" stroke-width="0.15">&#8199;.9</text><path d="M648.42 523.7V517.38L646.65 518.96" fill="none" stroke="#262626" stroke-width="1.05" stroke-linejoin="bevel"/>
<text transform="translate(678.02 523.7) scale(0.94 1)" font-family="Liberation Sans" font-size="9.3" fill="#262626" stroke="#262626" stroke-width="0.15">2</text>
<text transform="translate(389.29 514.35) scale(0.94 1)" font-family="Liberation Sans" font-size="9.3" fill="#262626" stroke="#262626" stroke-width="0.15">0</text>
<text transform="translate(382 474.54) scale(0.94 1)" font-family="Liberation Sans" font-size="9.3" fill="#262626" stroke="#262626" stroke-width="0.15">0.2</text>
<text transform="translate(382 434.74) scale(0.94 1)" font-family="Liberation Sans" font-size="9.3" fill="#262626" stroke="#262626" stroke-width="0.15">0.4</text>
<text transform="translate(382 394.93) scale(0.94 1)" font-family="Liberation Sans" font-size="9.3" fill="#262626" stroke="#262626" stroke-width="0.15">0.6</text>
<text transform="translate(382 355.13) scale(0.94 1)" font-family="Liberation Sans" font-size="9.3" fill="#262626" stroke="#262626" stroke-width="0.15">0.8</text>
<path d="M393.15 315.77V309.45L391.38 311.03" fill="none" stroke="#262626" stroke-width="1.05" stroke-linejoin="bevel"/>
<path d="M536.98 533.1Q537.48 532 538.18 532L541.68 532M539.38 532.2L538.48 536.2" fill="none" stroke="#555" stroke-width="0.95" stroke-linecap="round"/>
<g transform="translate(376.5 402.3) rotate(-90)" fill="#4a4a4a"><text x="-8.0" y="0" font-family="Liberation Serif" font-style="italic" font-size="10.2">&#961;</text><text x="-3.3" y="0" font-family="Liberation Sans" font-size="10">(</text><text x="5.2" y="0" font-family="Liberation Sans" font-size="10">)</text><path d="M0.9 -2.7Q1.3 -3.7 2.0 -3.7L5.4 -3.7M3.3 -3.6L2.5 0.2" fill="none" stroke="#4a4a4a" stroke-width="0.95" stroke-linecap="round"/></g>
<path d="M400.81 388.27 L403.89 382.42 L406.71 376.56 L417.5 370.71 L519.6 364.86 L595.6 359 L680.45 353.15" fill="none" stroke="#ff0000" stroke-width="1.35" stroke-linejoin="round" stroke-dasharray="1 1" clip-path="url(#c4)"/>
<circle cx="400.81" cy="388.27" r="2.6" fill="#ff0000"/>
<circle cx="403.89" cy="382.42" r="2.6" fill="#ff0000"/>
<circle cx="406.71" cy="376.56" r="2.6" fill="#ff0000"/>
<circle cx="417.5" cy="370.71" r="2.6" fill="#ff0000"/>
<circle cx="519.6" cy="364.86" r="2.6" fill="#ff0000"/>
<circle cx="595.6" cy="359" r="2.6" fill="#ff0000"/>
<circle cx="680.45" cy="353.15" r="2.6" fill="#ff0000"/>
<path d="M400.7 370.71 L406.6 364.86 L433.39 359 L492.09 353.15 L507 347.3 L512.99 341.44 L517.2 335.59 L522.11 329.73 L541.79 323.88 L626.41 318.03 L680.45 318.03" fill="none" stroke="#0000ff" stroke-width="1.6" stroke-linejoin="round" clip-path="url(#c4)"/>
<polygon points="400.7,366.61 401.71,369.32 404.6,369.44 402.34,371.24 403.11,374.03 400.7,372.43 398.29,374.03 399.06,371.24 396.8,369.44 399.69,369.32" fill="#0000ff" stroke="#0000ff" stroke-width="0.7" stroke-linejoin="miter"/>
<polygon points="406.6,360.76 407.61,363.46 410.5,363.59 408.24,365.39 409.01,368.17 406.6,366.58 404.19,368.17 404.96,365.39 402.7,363.59 405.59,363.46" fill="#0000ff" stroke="#0000ff" stroke-width="0.7" stroke-linejoin="miter"/>
<polygon points="433.39,354.9 434.41,357.61 437.29,357.74 435.03,359.53 435.8,362.32 433.39,360.72 430.98,362.32 431.76,359.53 429.49,357.74 432.38,357.61" fill="#0000ff" stroke="#0000ff" stroke-width="0.7" stroke-linejoin="miter"/>
<polygon points="492.09,349.05 493.11,351.76 495.99,351.88 493.73,353.68 494.5,356.47 492.09,354.87 489.68,356.47 490.46,353.68 488.19,351.88 491.08,351.76" fill="#0000ff" stroke="#0000ff" stroke-width="0.7" stroke-linejoin="miter"/>
<polygon points="507,343.2 508.01,345.9 510.9,346.03 508.64,347.83 509.41,350.61 507,349.02 504.59,350.61 505.36,347.83 503.1,346.03 505.99,345.9" fill="#0000ff" stroke="#0000ff" stroke-width="0.7" stroke-linejoin="miter"/>
<polygon points="512.99,337.34 514,340.05 516.89,340.17 514.63,341.97 515.4,344.76 512.99,343.16 510.58,344.76 511.35,341.97 509.09,340.17 511.98,340.05" fill="#0000ff" stroke="#0000ff" stroke-width="0.7" stroke-linejoin="miter"/>
<polygon points="517.2,331.49 518.21,334.19 521.09,334.32 518.83,336.12 519.61,338.9 517.2,337.31 514.79,338.9 515.56,336.12 513.3,334.32 516.18,334.19" fill="#0000ff" stroke="#0000ff" stroke-width="0.7" stroke-linejoin="miter"/>
<polygon points="522.11,325.63 523.12,328.34 526.01,328.47 523.75,330.27 524.52,333.05 522.11,331.46 519.7,333.05 520.47,330.27 518.21,328.47 521.1,328.34" fill="#0000ff" stroke="#0000ff" stroke-width="0.7" stroke-linejoin="miter"/>
<polygon points="541.79,319.78 542.8,322.49 545.69,322.61 543.43,324.41 544.2,327.2 541.79,325.6 539.38,327.2 540.15,324.41 537.89,322.61 540.78,322.49" fill="#0000ff" stroke="#0000ff" stroke-width="0.7" stroke-linejoin="miter"/>
<polygon points="626.41,313.93 627.42,316.63 630.31,316.76 628.05,318.56 628.82,321.34 626.41,319.75 624,321.34 624.77,318.56 622.51,316.76 625.4,316.63" fill="#0000ff" stroke="#0000ff" stroke-width="0.7" stroke-linejoin="miter"/>
<rect x="581.2" y="480.4" width="92.4" height="23.7" fill="#fff" stroke="#6e6e6e" stroke-width="1.1"/>
<path d="M584 487.3H609.8" stroke="#ff0000" stroke-width="1.35" fill="none" stroke-dasharray="1 1"/>
<circle cx="596.65" cy="487.3" r="2.6" fill="#ff0000"/>
<text transform="translate(611.8 490.6) scale(0.925 1)" font-family="Liberation Sans" font-size="8.3" fill="#000" text-anchor="start" stroke="#000" stroke-width="0.18">Newton-Gradient</text>
<path d="M583.5 497.8H609.8" stroke="#0000ff" stroke-width="1.6" fill="none"/>
<polygon points="596.65,493.7 597.66,496.41 600.55,496.53 598.29,498.33 599.06,501.12 596.65,499.52 594.24,501.12 595.01,498.33 592.75,496.53 595.64,496.41" fill="#0000ff" stroke="#0000ff" stroke-width="0.7" stroke-linejoin="miter"/>
<text transform="translate(611.8 501.1) scale(0.925 1)" font-family="Liberation Sans" font-size="8.3" fill="#000" text-anchor="start" stroke="#000" stroke-width="0.18">D-QN</text>
<clipPath id="c5"><rect x="213.5" y="567.5" width="282" height="217.9"/></clipPath>
<text x="354" y="560.8" font-family="Liberation Serif" font-size="17.3" fill="#000" text-anchor="middle" stroke="#000" stroke-width="0.2">Purity</text>
<path d="M213.5 785.4V782.6M213.5 567.5V570.3M241.7 785.4V782.6M241.7 567.5V570.3M269.9 785.4V782.6M269.9 567.5V570.3M298.1 785.4V782.6M298.1 567.5V570.3M326.3 785.4V782.6M326.3 567.5V570.3M354.5 785.4V782.6M354.5 567.5V570.3M382.7 785.4V782.6M382.7 567.5V570.3M410.9 785.4V782.6M410.9 567.5V570.3M439.1 785.4V782.6M439.1 567.5V570.3M467.3 785.4V782.6M467.3 567.5V570.3M495.5 785.4V782.6M495.5 567.5V570.3M213.5 785.4H216.3M495.5 785.4H492.7M213.5 745.72H216.3M495.5 745.72H492.7M213.5 706.04H216.3M495.5 706.04H492.7M213.5 666.37H216.3M495.5 666.37H492.7M213.5 626.69H216.3M495.5 626.69H492.7M213.5 587.01H216.3M495.5 587.01H492.7" stroke="#5a5a5a" stroke-width="1" fill="none"/>
<rect x="213.5" y="567.5" width="282" height="217.9" fill="none" stroke="#5e5e5e" stroke-width="1.05"/>
<path d="M213.35 797.9V791.58L211.58 793.16" fill="none" stroke="#262626" stroke-width="1.05" stroke-linejoin="bevel"/>
<text transform="translate(235.62 797.9) scale(0.94 1)" font-family="Liberation Sans" font-size="9.3" fill="#262626" stroke="#262626" stroke-width="0.15">&#8199;.&#8199;</text><path d="M237.9 797.9V791.58L236.14 793.16" fill="none" stroke="#262626" stroke-width="1.05" stroke-linejoin="bevel"/><path d="M245.19 797.9V791.58L243.43 793.16" fill="none" stroke="#262626" stroke-width="1.05" stroke-linejoin="bevel"/>
<text transform="translate(263.82 797.9) scale(0.94 1)" font-family="Liberation Sans" font-size="9.3" fill="#262626" stroke="#262626" stroke-width="0.15">&#8199;.2</text><path d="M266.1 797.9V791.58L264.34 793.16" fill="none" stroke="#262626" stroke-width="1.05" stroke-linejoin="bevel"/>
<text transform="translate(292.02 797.9) scale(0.94 1)" font-family="Liberation Sans" font-size="9.3" fill="#262626" stroke="#262626" stroke-width="0.15">&#8199;.3</text><path d="M294.3 797.9V791.58L292.54 793.16" fill="none" stroke="#262626" stroke-width="1.05" stroke-linejoin="bevel"/>
<text transform="translate(320.22 797.9) scale(0.94 1)" font-family="Liberation Sans" font-size="9.3" fill="#262626" stroke="#262626" stroke-width="0.15">&#8199;.4</text><path d="M322.5 797.9V791.58L320.74 793.16" fill="none" stroke="#262626" stroke-width="1.05" stroke-linejoin="bevel"/>
<text transform="translate(348.42 797.9) scale(0.94 1)" font-family="Liberation Sans" font-size="9.3" fill="#262626" stroke="#262626" stroke-width="0.15">&#8199;.5</text><path d="M350.7 797.9V791.58L348.94 793.16" fill="none" stroke="#262626" stroke-width="1.05" stroke-linejoin="bevel"/>
<text transform="translate(376.62 797.9) scale(0.94 1)" font-family="Liberation Sans" font-size="9.3" fill="#262626" stroke="#262626" stroke-width="0.15">&#8199;.6</text><path d="M378.9 797.9V791.58L377.14 793.16" fill="none" stroke="#262626" stroke-width="1.05" stroke-linejoin="bevel"/>
<text transform="translate(404.82 797.9) scale(0.94 1)" font-family="Liberation Sans" font-size="9.3" fill="#262626" stroke="#262626" stroke-width="0.15">&#8199;.7</text><path d="M407.1 797.9V791.58L405.34 793.16" fill="none" stroke="#262626" stroke-width="1.05" stroke-linejoin="bevel"/>
<text transform="translate(433.02 797.9) scale(0.94 1)" font-family="Liberation Sans" font-size="9.3" fill="#262626" stroke="#262626" stroke-width="0.15">&#8199;.8</text><path d="M435.3 797.9V791.58L433.54 793.16" fill="none" stroke="#262626" stroke-width="1.05" stroke-linejoin="bevel"/>
<text transform="translate(461.22 797.9) scale(0.94 1)" font-family="Liberation Sans" font-size="9.3" fill="#262626" stroke="#262626" stroke-width="0.15">&#8199;.9</text><path d="M463.5 797.9V791.58L461.74 793.16" fill="none" stroke="#262626" stroke-width="1.05" stroke-linejoin="bevel"/>
<text transform="translate(493.07 797.9) scale(0.94 1)" font-family="Liberation Sans" font-size="9.3" fill="#262626" stroke="#262626" stroke-width="0.15">2</text>
<text transform="translate(204.69 788.55) scale(0.94 1)" font-family="Liberation Sans" font-size="9.3" fill="#262626" stroke="#262626" stroke-width="0.15">0</text>
<text transform="translate(197.4 748.87) scale(0.94 1)" font-family="Liberation Sans" font-size="9.3" fill="#262626" stroke="#262626" stroke-width="0.15">0.2</text>
<text transform="translate(197.4 709.19) scale(0.94 1)" font-family="Liberation Sans" font-size="9.3" fill="#262626" stroke="#262626" stroke-width="0.15">0.4</text>
<text transform="translate(197.4 669.52) scale(0.94 1)" font-family="Liberation Sans" font-size="9.3" fill="#262626" stroke="#262626" stroke-width="0.15">0.6</text>
<text transform="translate(197.4 629.84) scale(0.94 1)" font-family="Liberation Sans" font-size="9.3" fill="#262626" stroke="#262626" stroke-width="0.15">0.8</text>
<path d="M208.55 590.61V584.29L206.78 585.87" fill="none" stroke="#262626" stroke-width="1.05" stroke-linejoin="bevel"/>
<path d="M352.2 807.3Q352.7 806.2 353.4 806.2L356.9 806.2M354.6 806.4L353.7 810.4" fill="none" stroke="#555" stroke-width="0.95" stroke-linecap="round"/>
<g transform="translate(191.9 676.85) rotate(-90)" fill="#4a4a4a"><text x="-8.0" y="0" font-family="Liberation Serif" font-style="italic" font-size="10.2">&#961;</text><text x="-3.3" y="0" font-family="Liberation Sans" font-size="10">(</text><text x="5.2" y="0" font-family="Liberation Sans" font-size="10">)</text><path d="M0.9 -2.7Q1.3 -3.7 2.0 -3.7L5.4 -3.7M3.3 -3.6L2.5 0.2" fill="none" stroke="#4a4a4a" stroke-width="0.95" stroke-linecap="round"/></g>
<path d="M214.91 657.03 L216.21 651.19 L218.89 645.36 L222.61 639.52 L230.98 633.69 L277.4 627.85 L284.2 622.02 L297.4 616.18 L341.39 610.35 L495.5 604.82" fill="none" stroke="#62ada5" stroke-width="1.3" stroke-linejoin="round" stroke-dasharray="4.6 3.9" clip-path="url(#c5)"/>
<path d="M212.41 657.03H217.41M214.91 654.53V659.53" stroke="#62ada5" stroke-width="1.3" fill="none"/>
<path d="M213.71 651.19H218.71M216.21 648.69V653.69" stroke="#62ada5" stroke-width="1.3" fill="none"/>
<path d="M216.39 645.36H221.39M218.89 642.86V647.86" stroke="#62ada5" stroke-width="1.3" fill="none"/>
<path d="M220.11 639.52H225.11M222.61 637.02V642.02" stroke="#62ada5" stroke-width="1.3" fill="none"/>
<path d="M228.48 633.69H233.48M230.98 631.19V636.19" stroke="#62ada5" stroke-width="1.3" fill="none"/>
<path d="M274.9 627.85H279.9M277.4 625.35V630.35" stroke="#62ada5" stroke-width="1.3" fill="none"/>
<path d="M281.7 622.02H286.7M284.2 619.52V624.52" stroke="#62ada5" stroke-width="1.3" fill="none"/>
<path d="M294.9 616.18H299.9M297.4 613.68V618.68" stroke="#62ada5" stroke-width="1.3" fill="none"/>
<path d="M338.89 610.35H343.89M341.39 607.85V612.85" stroke="#62ada5" stroke-width="1.3" fill="none"/>
<path d="M219.39 657.03 L223.09 651.19 L225.8 645.36 L231.21 633.69 L231.69 627.85 L234.09 622.02 L236.6 616.18 L238.2 610.35 L299.09 604.51 L495.5 602.42" fill="none" stroke="#0000ff" stroke-width="1.6" stroke-linejoin="round" clip-path="url(#c5)"/>
<polygon points="219.39,652.93 220.41,655.64 223.29,655.76 221.03,657.56 221.8,660.35 219.39,658.75 216.98,660.35 217.76,657.56 215.49,655.76 218.38,655.64" fill="#0000ff" stroke="#0000ff" stroke-width="0.7" stroke-linejoin="miter"/>
<polygon points="223.09,647.09 224.1,649.8 226.99,649.93 224.73,651.73 225.5,654.51 223.09,652.92 220.68,654.51 221.45,651.73 219.19,649.93 222.08,649.8" fill="#0000ff" stroke="#0000ff" stroke-width="0.7" stroke-linejoin="miter"/>
<polygon points="225.8,641.26 226.81,643.97 229.69,644.09 227.43,645.89 228.21,648.68 225.8,647.08 223.39,648.68 224.16,645.89 221.9,644.09 224.78,643.97" fill="#0000ff" stroke="#0000ff" stroke-width="0.7" stroke-linejoin="miter"/>
<polygon points="231.21,629.59 232.22,632.3 235.11,632.42 232.85,634.22 233.62,637.01 231.21,635.41 228.8,637.01 229.57,634.22 227.31,632.42 230.2,632.3" fill="#0000ff" stroke="#0000ff" stroke-width="0.7" stroke-linejoin="miter"/>
<polygon points="231.69,623.75 232.7,626.46 235.59,626.59 233.33,628.39 234.1,631.17 231.69,629.58 229.28,631.17 230.05,628.39 227.79,626.59 230.68,626.46" fill="#0000ff" stroke="#0000ff" stroke-width="0.7" stroke-linejoin="miter"/>
<polygon points="234.09,617.92 235.1,620.63 237.99,620.75 235.72,622.55 236.5,625.34 234.09,623.74 231.68,625.34 232.45,622.55 230.19,620.75 233.07,620.63" fill="#0000ff" stroke="#0000ff" stroke-width="0.7" stroke-linejoin="miter"/>
<polygon points="236.6,612.08 237.61,614.79 240.5,614.92 238.23,616.72 239.01,619.5 236.6,617.91 234.19,619.5 234.96,616.72 232.7,614.92 235.58,614.79" fill="#0000ff" stroke="#0000ff" stroke-width="0.7" stroke-linejoin="miter"/>
<polygon points="238.2,606.25 239.22,608.96 242.1,609.08 239.84,610.88 240.61,613.67 238.2,612.07 235.79,613.67 236.57,610.88 234.3,609.08 237.19,608.96" fill="#0000ff" stroke="#0000ff" stroke-width="0.7" stroke-linejoin="miter"/>
<polygon points="299.09,600.41 300.1,603.12 302.99,603.25 300.72,605.05 301.5,607.83 299.09,606.24 296.68,607.83 297.45,605.05 295.19,603.25 298.07,603.12" fill="#0000ff" stroke="#0000ff" stroke-width="0.7" stroke-linejoin="miter"/>
<rect x="420.4" y="754.4" width="68.2" height="24" fill="#fff" stroke="#6e6e6e" stroke-width="1.1"/>
<path d="M423 761.3H448.9" stroke="#62ada5" stroke-width="1.3" fill="none" stroke-dasharray="4.6 3.9"/>
<path d="M433.45 761.3H438.45M435.95 758.8V763.8" stroke="#62ada5" stroke-width="1.3" fill="none"/>
<text transform="translate(450.7 764.6) scale(0.925 1)" font-family="Liberation Sans" font-size="8.3" fill="#000" text-anchor="start" stroke="#000" stroke-width="0.18">PGM-GLL</text>
<path d="M423 771.8H448.9" stroke="#0000ff" stroke-width="1.6" fill="none"/>
<polygon points="435.95,767.7 436.96,770.41 439.85,770.53 437.59,772.33 438.36,775.12 435.95,773.52 433.54,775.12 434.31,772.33 432.05,770.53 434.94,770.41" fill="#0000ff" stroke="#0000ff" stroke-width="0.7" stroke-linejoin="miter"/>
<text transform="translate(450.7 775.1) scale(0.925 1)" font-family="Liberation Sans" font-size="8.3" fill="#000" text-anchor="start" stroke="#000" stroke-width="0.18">D-QN</text>
</svg>
</body></html>
